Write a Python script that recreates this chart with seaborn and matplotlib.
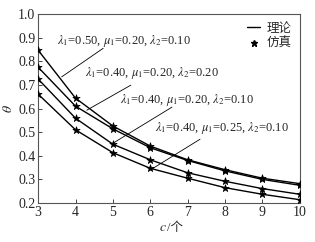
import matplotlib
matplotlib.use('Agg')
import matplotlib.pyplot as plt
from matplotlib.lines import Line2D
import seaborn as sns
import pandas as pd

c_values = [3, 4, 5, 6, 7, 8, 9, 10]
theta_a = [0.847, 0.644, 0.526, 0.441, 0.383, 0.341, 0.305, 0.282]
theta_b = [0.775, 0.610, 0.514, 0.434, 0.380, 0.336, 0.300, 0.275]
theta_c = [0.725, 0.559, 0.449, 0.383, 0.328, 0.292, 0.261, 0.237]
theta_d = [0.661, 0.510, 0.413, 0.347, 0.305, 0.265, 0.237, 0.214]
labels = [r'$\lambda_1$=0.50, $\mu_1$=0.20, $\lambda_2$=0.10',
          r'$\lambda_1$=0.40, $\mu_1$=0.20, $\lambda_2$=0.20',
          r'$\lambda_1$=0.40, $\mu_1$=0.20, $\lambda_2$=0.10',
          r'$\lambda_1$=0.40, $\mu_1$=0.25, $\lambda_2$=0.10']

sns.set_style('ticks')
plt.rcParams['font.family'] = ['Liberation Serif', 'Noto Sans CJK SC']
plt.rcParams['mathtext.fontset'] = 'stix'

rows = []
for name, ys in zip(labels, [theta_a, theta_b, theta_c, theta_d]):
    for c, t in zip(c_values, ys):
        rows.append({'c': c, 'theta': t, 'case': name})
df = pd.DataFrame(rows)

fig = plt.figure(figsize=(3.15, 2.42), dpi=100)
ax = fig.add_axes([0.121, 0.161, 0.831, 0.781])

sns.lineplot(data=df, x='c', y='theta', units='case', estimator=None,
             color='black', linewidth=1.0, ax=ax, legend=False)
sns.scatterplot(data=df, x='c', y='theta', color='black', marker='*',
                s=30, linewidth=0.5, edgecolor='black', ax=ax, legend=False, zorder=3)

ax.set_xlim(3, 10)
ax.set_ylim(0.2, 1.0)
ax.set_xticks(range(3, 11))
ax.set_yticks([0.2, 0.3, 0.4, 0.5, 0.6, 0.7, 0.8, 0.9, 1.0])
ax.set_yticklabels(['0.2', '0.3', '0.4', '0.5', '0.6', '0.7', '0.8', '0.9', '1.0'])
ax.tick_params(direction='in', length=3, width=0.6, labelsize=10, pad=2)
for sp in ax.spines.values():
    sp.set_color('#555555')
    sp.set_linewidth(0.8)

ax.set_xlabel('')
ax.set_ylabel(r'$\theta$', fontsize=10, labelpad=2)
fig.text(0.530, 0.058, '$c$', fontsize=10, ha='right', va='center')
fig.text(0.530, 0.058, '/个', fontsize=9, ha='left', va='center')

# label text (left, middle) and leader line (tip on curve, end under text)
text_pos = [(3.51, 0.886), (4.26, 0.752), (5.19, 0.636), (6.13, 0.517)]
leaders = [((3.63, 0.734), (4.74, 0.855)),
           ((4.30, 0.593), (5.48, 0.699)),
           ((5.00, 0.453), (6.58, 0.606)),
           ((5.99, 0.339), (7.33, 0.470))]
for lab, pos, (tip, end) in zip(labels, text_pos, leaders):
    ax.text(pos[0], pos[1], lab, fontsize=9, ha='left', va='center')
    ax.annotate('', xy=tip, xytext=end,
                arrowprops=dict(arrowstyle='-', color='black', lw=0.6,
                                shrinkA=0, shrinkB=0))

handles = [Line2D([], [], color='black', lw=1.0),
           Line2D([], [], color='black', marker='*', ls='none', markersize=5)]
ax.legend(handles, ['理论', '仿真'], loc='upper right', frameon=False, fontsize=9,
          handlelength=1.0, handletextpad=0.5, borderaxespad=0.3, labelspacing=0.25)

fig.savefig('out.png', dpi=100)
